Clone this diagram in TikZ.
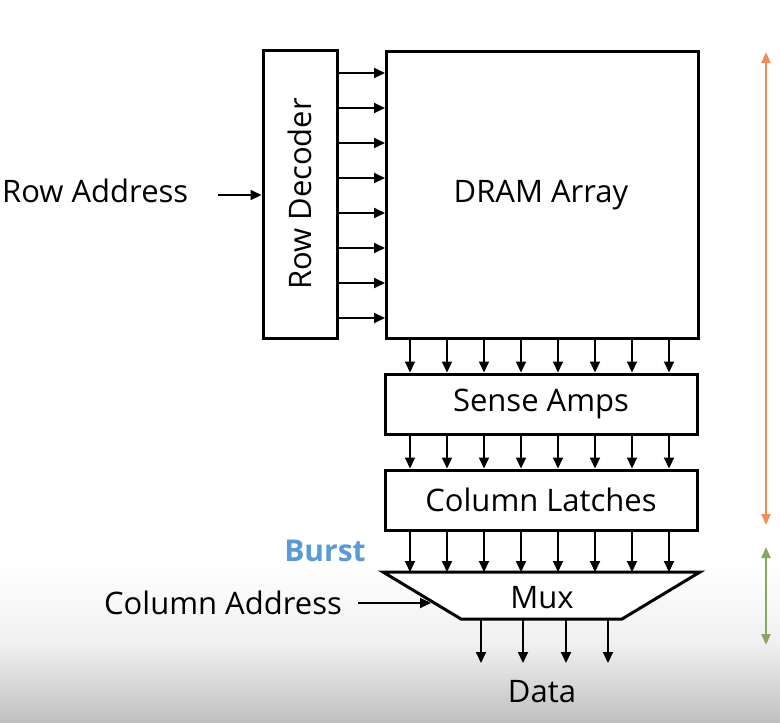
\documentclass[tikz,border=0pt]{standalone}
\usepackage{fontspec}
\setmainfont{Open Sans}
\usetikzlibrary{arrows.meta}
\definecolor{burstblue}{HTML}{5B9BD5}
\definecolor{orangearr}{HTML}{EE9055}
\definecolor{greenarr}{HTML}{87A862}
\begin{document}
\begin{tikzpicture}[x=1pt,y=-1pt,
  box/.style={draw=black,line width=3pt,fill=white,inner sep=0pt,font=\fontsize{31}{34}\selectfont},
  arr/.style={line width=2pt,-{Triangle[length=11pt,width=10pt]}},
  lbl/.style={inner sep=0pt,font=\fontsize{31}{34}\selectfont},
  dbl/.style={line width=2.2pt,{Triangle[length=11pt,width=9pt]}-{Triangle[length=11pt,width=9pt]}}]
\useasboundingbox (0,0) rectangle (780,723);
\fill[white] (0,0) rectangle (780,723);
\shade[top color=white,bottom color=white!75!black,middle color=white!94!black] (0,565) rectangle (780,723);
% boxes
\node[box,minimum width=74pt,minimum height=288pt] (rowdec) at (300,194) {\rotatebox{90}{Row Decoder}};
\node[box,minimum width=312pt,minimum height=287pt,anchor=north west] (dram) at (385,50) {};
\node[lbl] (dramtxt) at (541,195) {DRAM Array};
\node[box,minimum width=312pt,minimum height=60pt] (sense) at (541,404) {Sense Amps};
\node[box,minimum width=312pt,minimum height=60pt] (latch) at (541,500) {Column Latches};
% mux
\coordinate (m1) at (383,572);
\coordinate (m2) at (700,572);
\coordinate (m3) at (622,619);
\coordinate (m4) at (461,619);
\draw[line width=3pt,fill=white,line join=miter] (m1) -- (m2) -- (m3) -- (m4) -- cycle;
\node[lbl] (mux) at (542,598) {Mux};
% row decoder -> dram arrows
\foreach \k in {0,...,7}{
  \pgfmathsetmacro{\yy}{73+35*\k}
  \draw[arr] (rowdec.east |- 0,\yy) -- (dram.west |- 0,\yy);
}
% vertical arrows
\foreach \k in {0,...,7}{
  \pgfmathsetmacro{\xx}{410+37*\k}
  \draw[arr] (dram.south -| \xx,0) -- (sense.north -| \xx,0);
  \draw[arr] (sense.south -| \xx,0) -- (latch.north -| \xx,0);
  \draw[arr] (latch.south -| \xx,0) -- (m1 -| \xx,0);
}
% data arrows
\node[lbl] (data) at (542,692) {Data};
\foreach \xx in {481,523,566,608}{
  \coordinate (dend) at (\xx,663);
  \draw[arr] (m4 -| \xx,0) -- (dend);
}
% labels
\node[lbl,anchor=west] (rowaddr) at (2,191) {Row Address};
\coordinate (rowaddrS) at (218,195);
\draw[arr] (rowaddrS) -- (rowdec.west |- rowaddrS);
\node[lbl,anchor=east] (coladdr) at (342,603) {Column Address};
\coordinate (colS) at (358,603);
\coordinate (colE) at (431,603);
\draw[arr] (colS) -- (colE);
\node[lbl,font=\fontsize{30}{33}\selectfont\bfseries,text=burstblue] (burst) at (325,551) {Burst};
% side arrows
\coordinate (o1) at (766,52);
\coordinate (o2) at (766,525);
\coordinate (g1) at (766,547);
\coordinate (g2) at (766,645);
\draw[dbl,orangearr] (o1) -- (o2);
\draw[dbl,greenarr] (g1) -- (g2);
\end{tikzpicture}
\end{document}
